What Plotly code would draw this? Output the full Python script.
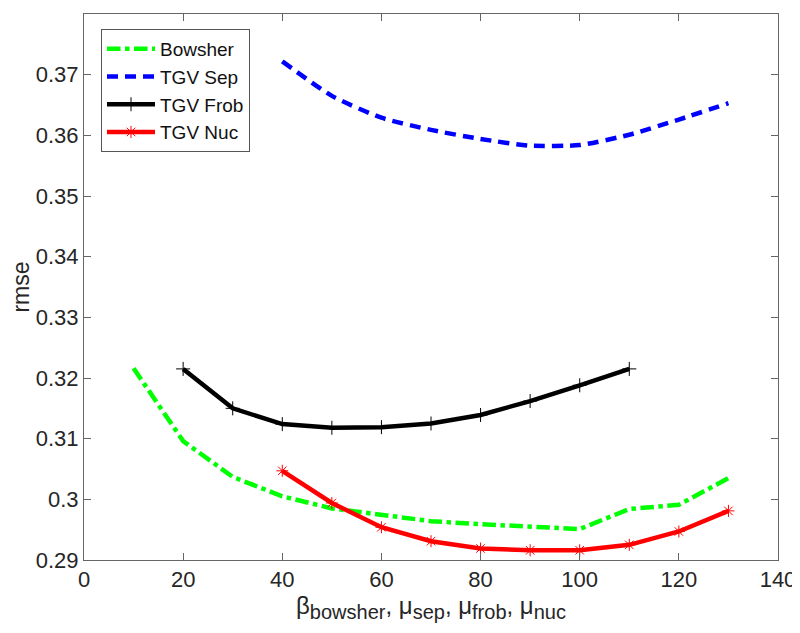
import plotly.graph_objects as go

x_bowsher = [10, 20, 30, 40, 50, 60, 70, 80, 90, 100, 110, 120, 130]
y_bowsher = [0.3216, 0.3096, 0.3037, 0.3005, 0.2985, 0.2974, 0.2964, 0.2959, 0.2955, 0.2951, 0.2984, 0.2991, 0.3035]

x_sep = [40, 50, 60, 70, 80, 90, 100, 110, 120, 130]
y_sep = [0.3722, 0.3665, 0.3629, 0.3609, 0.3594, 0.3583, 0.3584, 0.3601, 0.3626, 0.3653]

x_frob = [20, 30, 40, 50, 60, 70, 80, 90, 100, 110]
y_frob = [0.3215, 0.3150, 0.3124, 0.3118, 0.3119, 0.3125, 0.3139, 0.3162, 0.3188, 0.3215]

x_nuc = [40, 50, 60, 70, 80, 90, 100, 110, 120, 130]
y_nuc = [0.3047, 0.2994, 0.2954, 0.2931, 0.2919, 0.2916, 0.2916, 0.2925, 0.2947, 0.2981]

x_ticks = [0, 20, 40, 60, 80, 100, 120, 140]
y_ticks = [0.29, 0.30, 0.31, 0.32, 0.33, 0.34, 0.35, 0.36, 0.37, 0.38]
y_ticktext = ["0.29", "0.3", "0.31", "0.32", "0.33", "0.34", "0.35", "0.36", "0.37", "0.38"]

fig = go.Figure()
fig.add_trace(go.Scatter(x=x_bowsher, y=y_bowsher, mode="lines", name="Bowsher",
                         line=dict(color="#00ff00", width=4.5, dash="dashdot")))
fig.add_trace(go.Scatter(x=x_sep, y=y_sep, mode="lines", name="TGV Sep",
                         line=dict(color="#0000ff", width=4.5, dash="11px,7px", shape="spline", smoothing=0.6)))
fig.add_trace(go.Scatter(x=x_frob, y=y_frob, mode="lines+markers", name="TGV Frob",
                         line=dict(color="#000000", width=4.5),
                         marker=dict(symbol="cross-thin-open", size=10, color="#000000",
                                     line=dict(width=1, color="#000000"))))
fig.add_trace(go.Scatter(x=x_nuc, y=y_nuc, mode="lines+markers", name="TGV Nuc",
                         line=dict(color="#ff0000", width=4.5),
                         marker=dict(symbol="asterisk-open", size=10, color="#ff0000",
                                     line=dict(width=1, color="#ff0000"))))

axis_common = dict(showgrid=False, zeroline=False, showline=True, linecolor="#666666",
                   linewidth=1, mirror="ticks", ticks="inside", ticklen=7, automargin=False,
                   tickcolor="#666666", tickfont=dict(size=22, color="#262626"))

sub = '<sub><span style="font-size:20px">{}</span></sub>'
x_title = ("β" + sub.format("bowsher") + ", μ" + sub.format("sep") + ", μ" + sub.format("frob")
           + ", μ" + sub.format("nuc"))

fig.update_xaxes(range=[0, 140], tickvals=x_ticks, **axis_common,
                 title=dict(text=x_title, font=dict(size=24, color="#262626"), standoff=0))
fig.update_yaxes(range=[0.29, 0.38], tickvals=y_ticks, ticktext=y_ticktext, **axis_common,
                 title=dict(text="rmse", font=dict(size=23, color="#262626"), standoff=4))

# the page adds an 8px body margin, so the figure is sized to fill the 800x633 window
fig.update_layout(
    width=792, height=625,
    margin=dict(l=76, r=22, t=6, b=73),
    paper_bgcolor="white", plot_bgcolor="white",
    font=dict(family="Liberation Sans, Arial, sans-serif", color="#262626"),
    showlegend=True,
    legend=dict(x=0.0245, y=0.9725, xanchor="left", yanchor="top",
                bordercolor="#555555", borderwidth=1, bgcolor="white",
                font=dict(size=19, color="#111111"), tracegroupgap=0,
                itemwidth=48),
)

fig.write_html("out.html")
